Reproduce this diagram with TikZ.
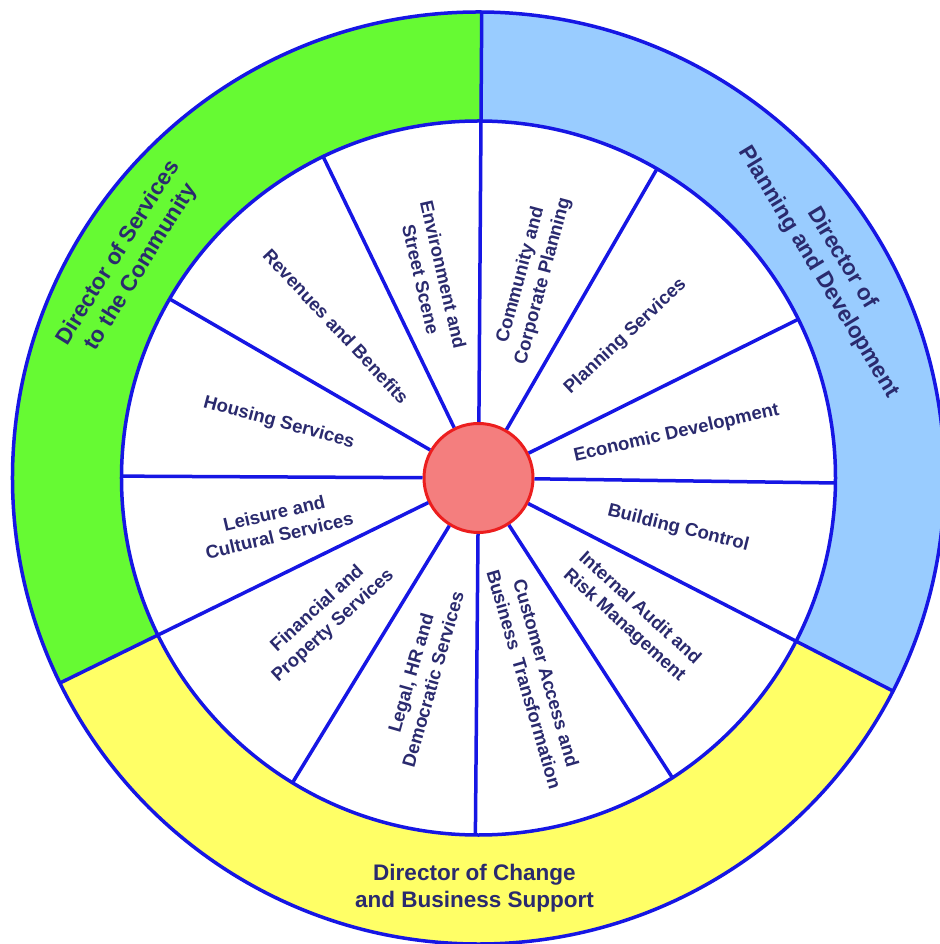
\documentclass[tikz,border=0pt]{standalone}
\usepackage{fontspec}
\setmainfont{Liberation Sans}
\definecolor{ringline}{RGB}{22,22,228}
\definecolor{txt}{RGB}{42,42,110}
\definecolor{gfill}{RGB}{102,250,51}
\definecolor{bfill}{RGB}{153,204,255}
\definecolor{yfill}{RGB}{255,255,102}
\definecolor{rfill}{RGB}{244,126,126}
\definecolor{rline}{RGB}{236,30,30}
\begin{document}
\begin{tikzpicture}[
  wheelline/.style={draw=ringline, line width=3.5pt},
  innerlabel/.style={font=\fontsize{18.5}{23}\selectfont\bfseries, text=txt, align=center, inner sep=0pt},
  outerlabel/.style={font=\fontsize{22.5}{27}\selectfont\bfseries, text=txt, align=center, inner sep=0pt},
  hubstyle/.style={circle, draw=rline, line width=3pt, fill=rfill, minimum size=109pt, inner sep=0pt}
]
\useasboundingbox (-478.5pt,-466pt) rectangle (460.5pt,478pt);
\fill[white] (-478.5pt,-466pt) rectangle (460.5pt,478pt);
% ring sectors
\fill[gfill] (89.6:466pt) arc[start angle=89.6,end angle=206.1,radius=466pt] -- (206.1:357pt) arc[start angle=206.1,end angle=89.6,radius=357pt] -- cycle;
\fill[yfill] (206.1:466pt) arc[start angle=206.1,end angle=332.8,radius=466pt] -- (332.8:357pt) arc[start angle=332.8,end angle=206.1,radius=357pt] -- cycle;
\fill[bfill] (332.8:466pt) arc[start angle=332.8,end angle=449.6,radius=466pt] -- (449.6:357pt) arc[start angle=449.6,end angle=332.8,radius=357pt] -- cycle;
% circles
\draw[wheelline] (0,0) circle[radius=466pt];
\draw[wheelline] (0,0) circle[radius=357pt];
% hub
\node[hubstyle] (hub) at (0,0) {};
% rim points
\coordinate (o1) at (89.6:466pt);
\coordinate (s2) at (60:357pt);
\coordinate (s3) at (26.4:357pt);
\coordinate (s4) at (-0.8:357pt);
\coordinate (o5) at (-27.2:466pt);
\coordinate (s6) at (-57.1:357pt);
\coordinate (s7) at (-90.5:357pt);
\coordinate (s8) at (-121.4:357pt);
\coordinate (o9) at (-153.9:466pt);
\coordinate (s10) at (179.7:357pt);
\coordinate (s11) at (149.9:357pt);
\coordinate (s12) at (115.8:357pt);
\foreach \p in {o1,s2,s3,s4,o5,s6,s7,s8,o9,s10,s11,s12}
  \draw[wheelline] (hub) -- (\p);
% outer labels
\node[outerlabel, rotate=58] (dsc) at (148:411pt) {Director of Services\\to the Community};
\node[outerlabel, rotate=-58.8] (dpd) at (31.2:411pt) {Director of\\Planning and Development};
\node[outerlabel] (dcb) at (-4pt,-410pt) {Director of Change\\and Business Support};
% inner labels
\node[innerlabel, rotate=75] (l1) at (75:207pt) {Community and\\Corporate Planning};
\node[innerlabel, rotate=43.2] (l2) at (43.9:204pt) {Planning Services};
\node[innerlabel, rotate=12.8] (l3) at (12.7:203pt) {Economic Development};
\node[innerlabel, rotate=-14] (l4) at (-14.2:206pt) {Building Control};
\node[innerlabel, rotate=-42.2] (l5) at (-42.2:207pt) {Internal Audit and\\Risk Management};
\node[innerlabel, rotate=-73.8] (l6) at (-74:206pt) {Customer Access and\\Business\hspace{0.25em} Transformation};
\node[innerlabel, rotate=74] (l7) at (-106:206pt) {Legal, HR and\\Democratic Services};
\node[innerlabel, rotate=42.4] (l8) at (222.3:207pt) {Financial and\\Property Services};
\node[innerlabel, rotate=13.2] (l9) at (192.9:207pt) {Leisure and\\Cultural Services};
\node[innerlabel, rotate=-15] (l10) at (164.6:207pt) {Housing Services};
\node[innerlabel, rotate=-47] (l11) at (133.2:208pt) {Revenues and Benefits};
\node[innerlabel, rotate=-77] (l12) at (103:206pt) {Environment and\\Street Scene};
\end{tikzpicture}
\end{document}
